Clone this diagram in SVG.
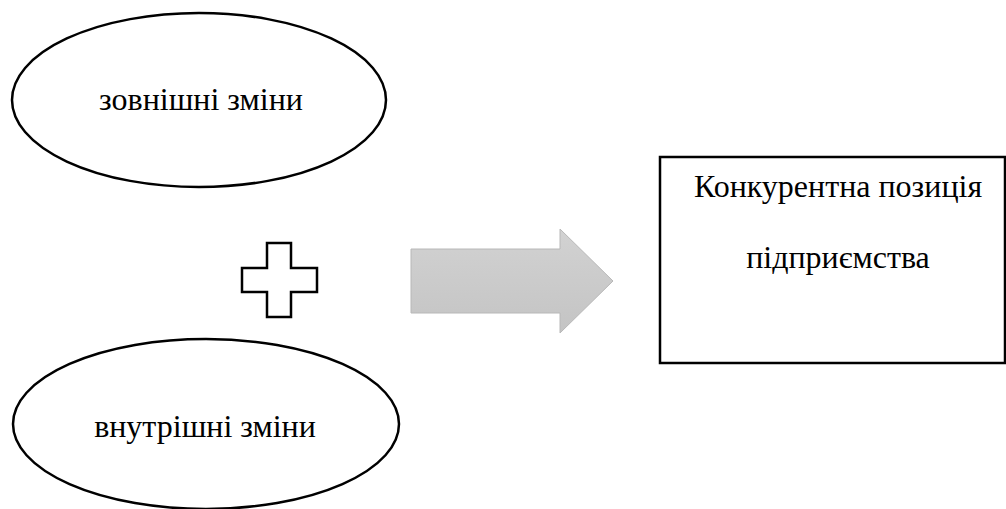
<svg xmlns="http://www.w3.org/2000/svg" width="1006" height="509" viewBox="0 0 1006 509">
<style>
.shape{fill:#fff;stroke:#000;stroke-width:2.5}
.t{font-size:32px;fill:#000;text-anchor:middle}
</style>
<defs>
<linearGradient id="g" x1="0" y1="0" x2="0" y2="1">
<stop offset="0" stop-color="#d2d2d2"/>
<stop offset="1" stop-color="#c4c4c4"/>
</linearGradient>
</defs>
<rect width="1006" height="509" fill="#fff"/>
<g id="external">
<ellipse class="shape" cx="199" cy="100" rx="187" ry="87"/>
<text class="t" font-family="'Liberation Serif', 'DejaVu Serif', serif" x="201" y="110">зовнішні зміни</text>
</g>
<g id="internal">
<ellipse class="shape" cx="206" cy="424" rx="193" ry="85"/>
<text class="t" font-family="'Liberation Serif', 'DejaVu Serif', serif" x="205" y="437">внутрішні зміни</text>
</g>
<g id="plus">
<path class="shape" d="M267,243 H291 V268 H317 V292 H291 V317 H267 V292 H242 V268 H267 Z"/>
</g>
<g id="connectors">
<path d="M411,249 H560 V229 L613,281 L560,333 V313 H411 Z" fill="url(#g)" stroke="#b8b8b8" stroke-width="1"/>
</g>
<g id="position">
<rect class="shape" x="660" y="157" width="345" height="206"/>
<text class="t" font-family="'Liberation Serif', 'DejaVu Serif', serif" x="838" y="197">Конкурентна позиція</text>
<text class="t" font-family="'Liberation Serif', 'DejaVu Serif', serif" x="838" y="268">підприємства</text>
</g>
</svg>
